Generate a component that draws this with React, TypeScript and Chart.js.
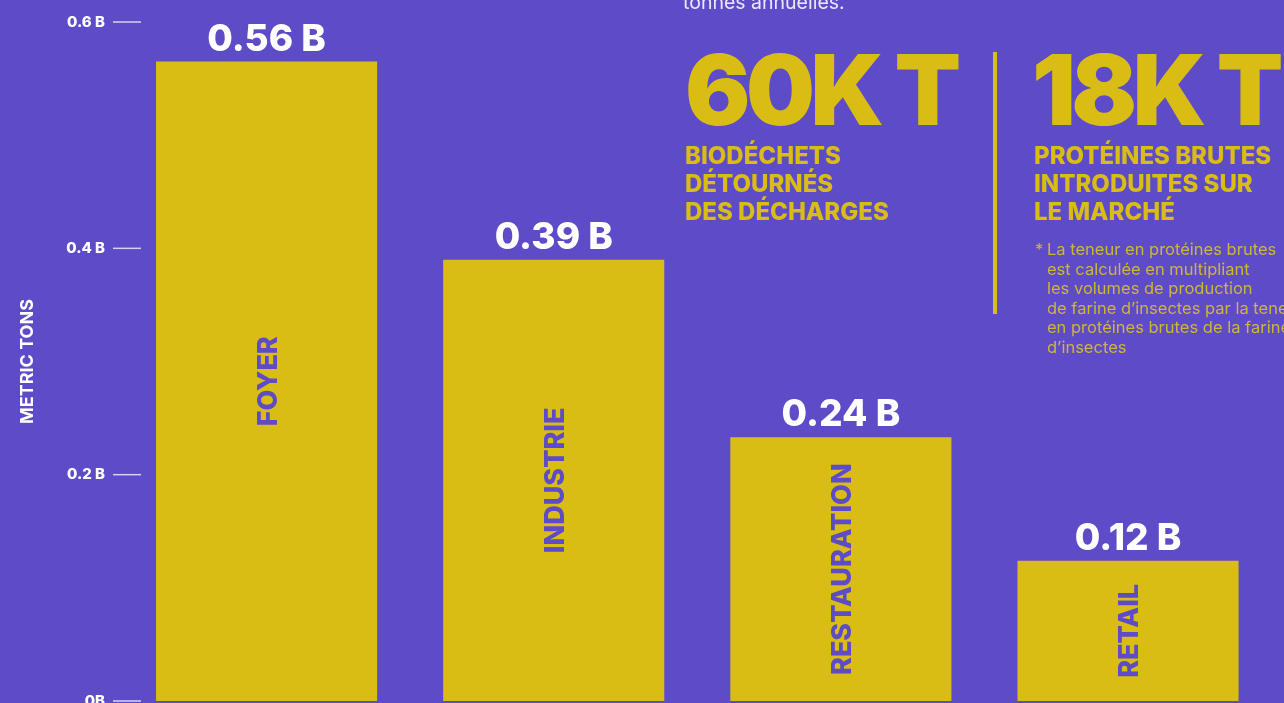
import React, { useEffect, useRef } from "react";
import { Chart, registerables } from "chart.js";

Chart.register(...registerables);

const categories = ["FOYER", "INDUSTRIE", "RESTAURATION", "RETAIL"];
const values = [0.565, 0.39, 0.233, 0.124];
const valueLabels = ["0.56 B", "0.39 B", "0.24 B", "0.12 B"];
const yTicks = [0, 0.2, 0.4, 0.6];
const yTickLabels = ["0B", "0.2 B", "0.4 B", "0.6 B"];
const axisTitle = "METRIC TONS";

const stat1 = "60K T";
const stat1Lines = ["BIODÉCHETS", "DÉTOURNÉS", "DES DÉCHARGES"];
const stat2 = "18K T";
const stat2Lines = ["PROTÉINES BRUTES", "INTRODUITES SUR", "LE MARCHÉ"];
const introLine = "tonnes annuelles.";
const footnoteLines = [
  "La teneur en protéines brutes",
  "est calculée en multipliant",
  "les volumes de production",
  "de farine d’insectes par la teneur",
  "en protéines brutes de la farine",
  "d’insectes",
];

const BG = "#5D4BC8";
const YELLOW = "#D9BC14";
const FONT = "Inter, 'Noto Sans', sans-serif";

const labelPlugin = {
  id: "labelPlugin",
  afterDatasetsDraw(chart: any) {
    const ctx = chart.ctx;
    const meta = chart.getDatasetMeta(0);
    const y = chart.scales.y;
    const left = chart.chartArea.left;
    ctx.save();
    ctx.strokeStyle = "rgba(255,255,255,0.75)";
    ctx.lineWidth = 1.5;
    yTicks.forEach((v) => {
      const py = y.getPixelForValue(v);
      ctx.beginPath();
      ctx.moveTo(left - 10, py);
      ctx.lineTo(left + 18, py);
      ctx.stroke();
    });
    meta.data.forEach((bar: any, i: number) => {
      ctx.fillStyle = "#FFFFFF";
      ctx.font = `800 37px ${FONT}`;
      ctx.textAlign = "center";
      ctx.textBaseline = "alphabetic";
      ctx.fillText(valueLabels[i], bar.x, bar.y - 11);
      ctx.save();
      ctx.translate(bar.x + 2, (bar.y + bar.base) / 2);
      ctx.rotate(-Math.PI / 2);
      ctx.fillStyle = BG;
      ctx.font = `800 27px ${FONT}`;
      ctx.textBaseline = "middle";
      ctx.fillText(categories[i], 0, 0);
      ctx.restore();
    });
    ctx.restore();
  },
};

export default function App() {
  const ref = useRef<HTMLCanvasElement | null>(null);
  useEffect(() => {
    if (!ref.current) return;
    const chart = new Chart(ref.current, {
      type: "bar",
      data: {
        labels: categories,
        datasets: [
          {
            data: values,
            backgroundColor: YELLOW,
            borderWidth: 0,
            categoryPercentage: 0.77,
            barPercentage: 1,
          },
        ],
      },
      options: {
        animation: false,
        responsive: false,
        maintainAspectRatio: false,
        layout: { padding: { left: 0, right: 12.4, top: 22, bottom: 19 } },
        plugins: { legend: { display: false }, tooltip: { enabled: false } },
        scales: {
          x: { display: false },
          y: {
            min: 0,
            max: 0.6,
            afterFit: (s: any) => {
              s.width = 123;
              s.paddingTop = 0;
              s.paddingBottom = 0;
            },
            grid: { display: false, drawTicks: false },
            border: { display: false },
            ticks: {
              stepSize: 0.2,
              padding: 18,
              color: "#FFFFFF",
              font: { family: FONT, size: 15, weight: "800" },
              callback: (v: any) => {
                const idx = yTicks.findIndex((t) => Math.abs(t - Number(v)) < 1e-6);
                return idx >= 0 ? yTickLabels[idx] : "";
              },
            },
            title: {
              display: true,
              text: axisTitle,
              color: "#FFFFFF",
              font: { family: FONT, size: 18, weight: "700" },
              padding: { top: 17, bottom: 0 },
            },
          },
        },
      },
      plugins: [labelPlugin],
    });
    return () => chart.destroy();
  }, []);

  const yellowHead: React.CSSProperties = {
    position: "absolute",
    fontFamily: FONT,
    fontWeight: 900,
    fontSize: 97,
    lineHeight: "100px",
    color: YELLOW,
    whiteSpace: "pre",
    letterSpacing: "-4.5px",
    top: 40,
  };
  const yellowSub: React.CSSProperties = {
    position: "absolute",
    fontFamily: FONT,
    fontWeight: 800,
    fontSize: 24,
    lineHeight: "28px",
    color: YELLOW,
    whiteSpace: "pre",
    top: 142,
  };
  const foot: React.CSSProperties = {
    position: "absolute",
    top: 240,
    fontFamily: FONT,
    fontSize: 16.5,
    lineHeight: "19.6px",
    color: "#CDB63A",
    whiteSpace: "pre",
  };

  return (
    <div
      style={{
        position: "fixed",
        left: 0,
        top: 0,
        width: 1284,
        height: 703,
        overflow: "hidden",
        background: BG,
      }}
    >
      <canvas ref={ref} width={1284} height={720} style={{ position: "absolute", left: 0, top: 0, width: 1284, height: 720 }} />
      <div
        style={{
          position: "absolute",
          left: 683,
          top: -8,
          fontFamily: FONT,
          fontSize: 19.5,
          lineHeight: "20px",
          color: "#ECE8FA",
          whiteSpace: "pre",
        }}
      >
        {introLine}
      </div>
      <div style={{ ...yellowHead, left: 685 }}>{stat1}</div>
      <div style={{ ...yellowHead, left: 1032 }}>{stat2}</div>
      <div style={{ position: "absolute", left: 993, top: 52, width: 4, height: 262, background: YELLOW }} />
      <div style={{ ...yellowSub, left: 685 }}>{stat1Lines.join("\n")}</div>
      <div style={{ ...yellowSub, left: 1034 }}>{stat2Lines.join("\n")}</div>
      <div style={{ ...foot, left: 1035 }}>*</div>
      <div style={{ ...foot, left: 1047 }}>{footnoteLines.join("\n")}</div>
    </div>
  );
}
